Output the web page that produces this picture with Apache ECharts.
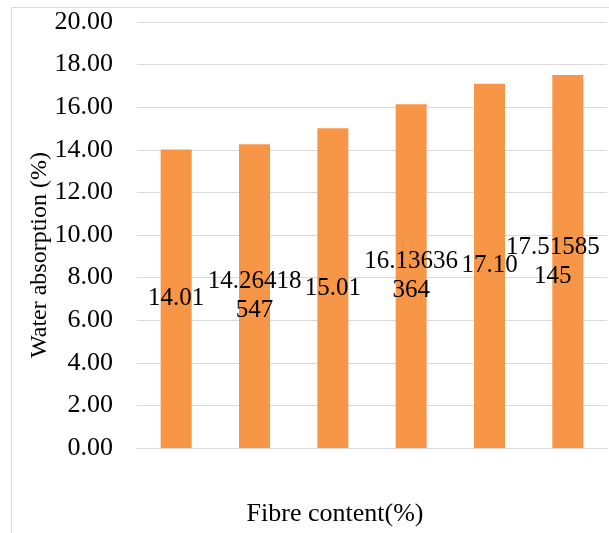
<!DOCTYPE html>
<html>
<head>
<meta charset="utf-8">
<script src="https://cdn.jsdelivr.net/npm/echarts@6/dist/echarts.min.js"></script>
<style>
  html, body { margin: 0; padding: 0; background: #fff; }
  #chart { width: 609px; height: 533px; }
</style>
</head>
<body>
<div id="chart"></div>
<script>
// Fibre content groups (no tick text is shown on the category axis)
var categories = ['1', '2', '3', '4', '5', '6'];
// Water absorption (%) per fibre content group
var waterAbsorption = [14.01, 14.26418547, 15.01, 16.13636364, 17.10, 17.51585145];
// Data label text as it appears on each bar (wrapped)
var barLabels = ['14.01', '14.26418\n547', '15.01', '16.13636\n364', '17.10', '17.51585\n145'];
// Value axis ticks
var yTicks = { min: 0, max: 20, interval: 2 };

var FONT = '"Liberation Serif", "Times New Roman", serif';

// Keep the last label inside the plot area by nudging it left
var barData = waterAbsorption.map(function (v, i) {
  var item = { value: v };
  if (i === waterAbsorption.length - 1) {
    item.label = { offset: [-15, 0] };
  }
  return item;
});

var chart = echarts.init(document.getElementById('chart'), null, { renderer: 'canvas' });

chart.setOption({
  animation: false,
  backgroundColor: '#ffffff',
  grid: { left: 137, right: 2, top: 22, bottom: 85, containLabel: false },
  xAxis: {
    type: 'category',
    data: categories,
    axisLine: { show: true, lineStyle: { color: '#d9d9d9', width: 1 } },
    axisTick: { show: false },
    axisLabel: { show: false }
  },
  yAxis: {
    type: 'value',
    min: yTicks.min,
    max: yTicks.max,
    interval: yTicks.interval,
    axisLine: { show: false },
    axisTick: { show: false },
    splitLine: { show: true, lineStyle: { color: '#d9d9d9', width: 1 } },
    axisLabel: {
      margin: 24,
      color: '#000',
      fontFamily: FONT,
      fontSize: 26,
      formatter: function (v) { return v.toFixed(2); }
    }
  },
  series: [{
    type: 'bar',
    data: barData,
    barWidth: 31,
    itemStyle: { color: '#f79646' },
    label: {
      show: true,
      position: 'inside',
      color: '#000',
      fontFamily: FONT,
      fontSize: 25,
      lineHeight: 29,
      formatter: function (p) { return barLabels[p.dataIndex]; }
    }
  }],
  graphic: [
    {
      type: 'rect',
      silent: true,
      shape: { x: 11.5, y: 7.5, width: 800, height: 800 },
      style: { fill: 'none', stroke: '#d9d9d9', lineWidth: 1 }
    },
    {
      type: 'text',
      x: 335, y: 514,
      style: {
        text: 'Fibre content(%)',
        font: '26px ' + FONT,
        fill: '#000',
        align: 'center',
        verticalAlign: 'middle'
      }
    },
    {
      type: 'text',
      x: 40, y: 255,
      rotation: Math.PI / 2,
      style: {
        text: 'Water absorption (%)',
        font: '24px ' + FONT,
        fill: '#000',
        align: 'center',
        verticalAlign: 'middle'
      }
    }
  ]
});
</script>
</body>
</html>
